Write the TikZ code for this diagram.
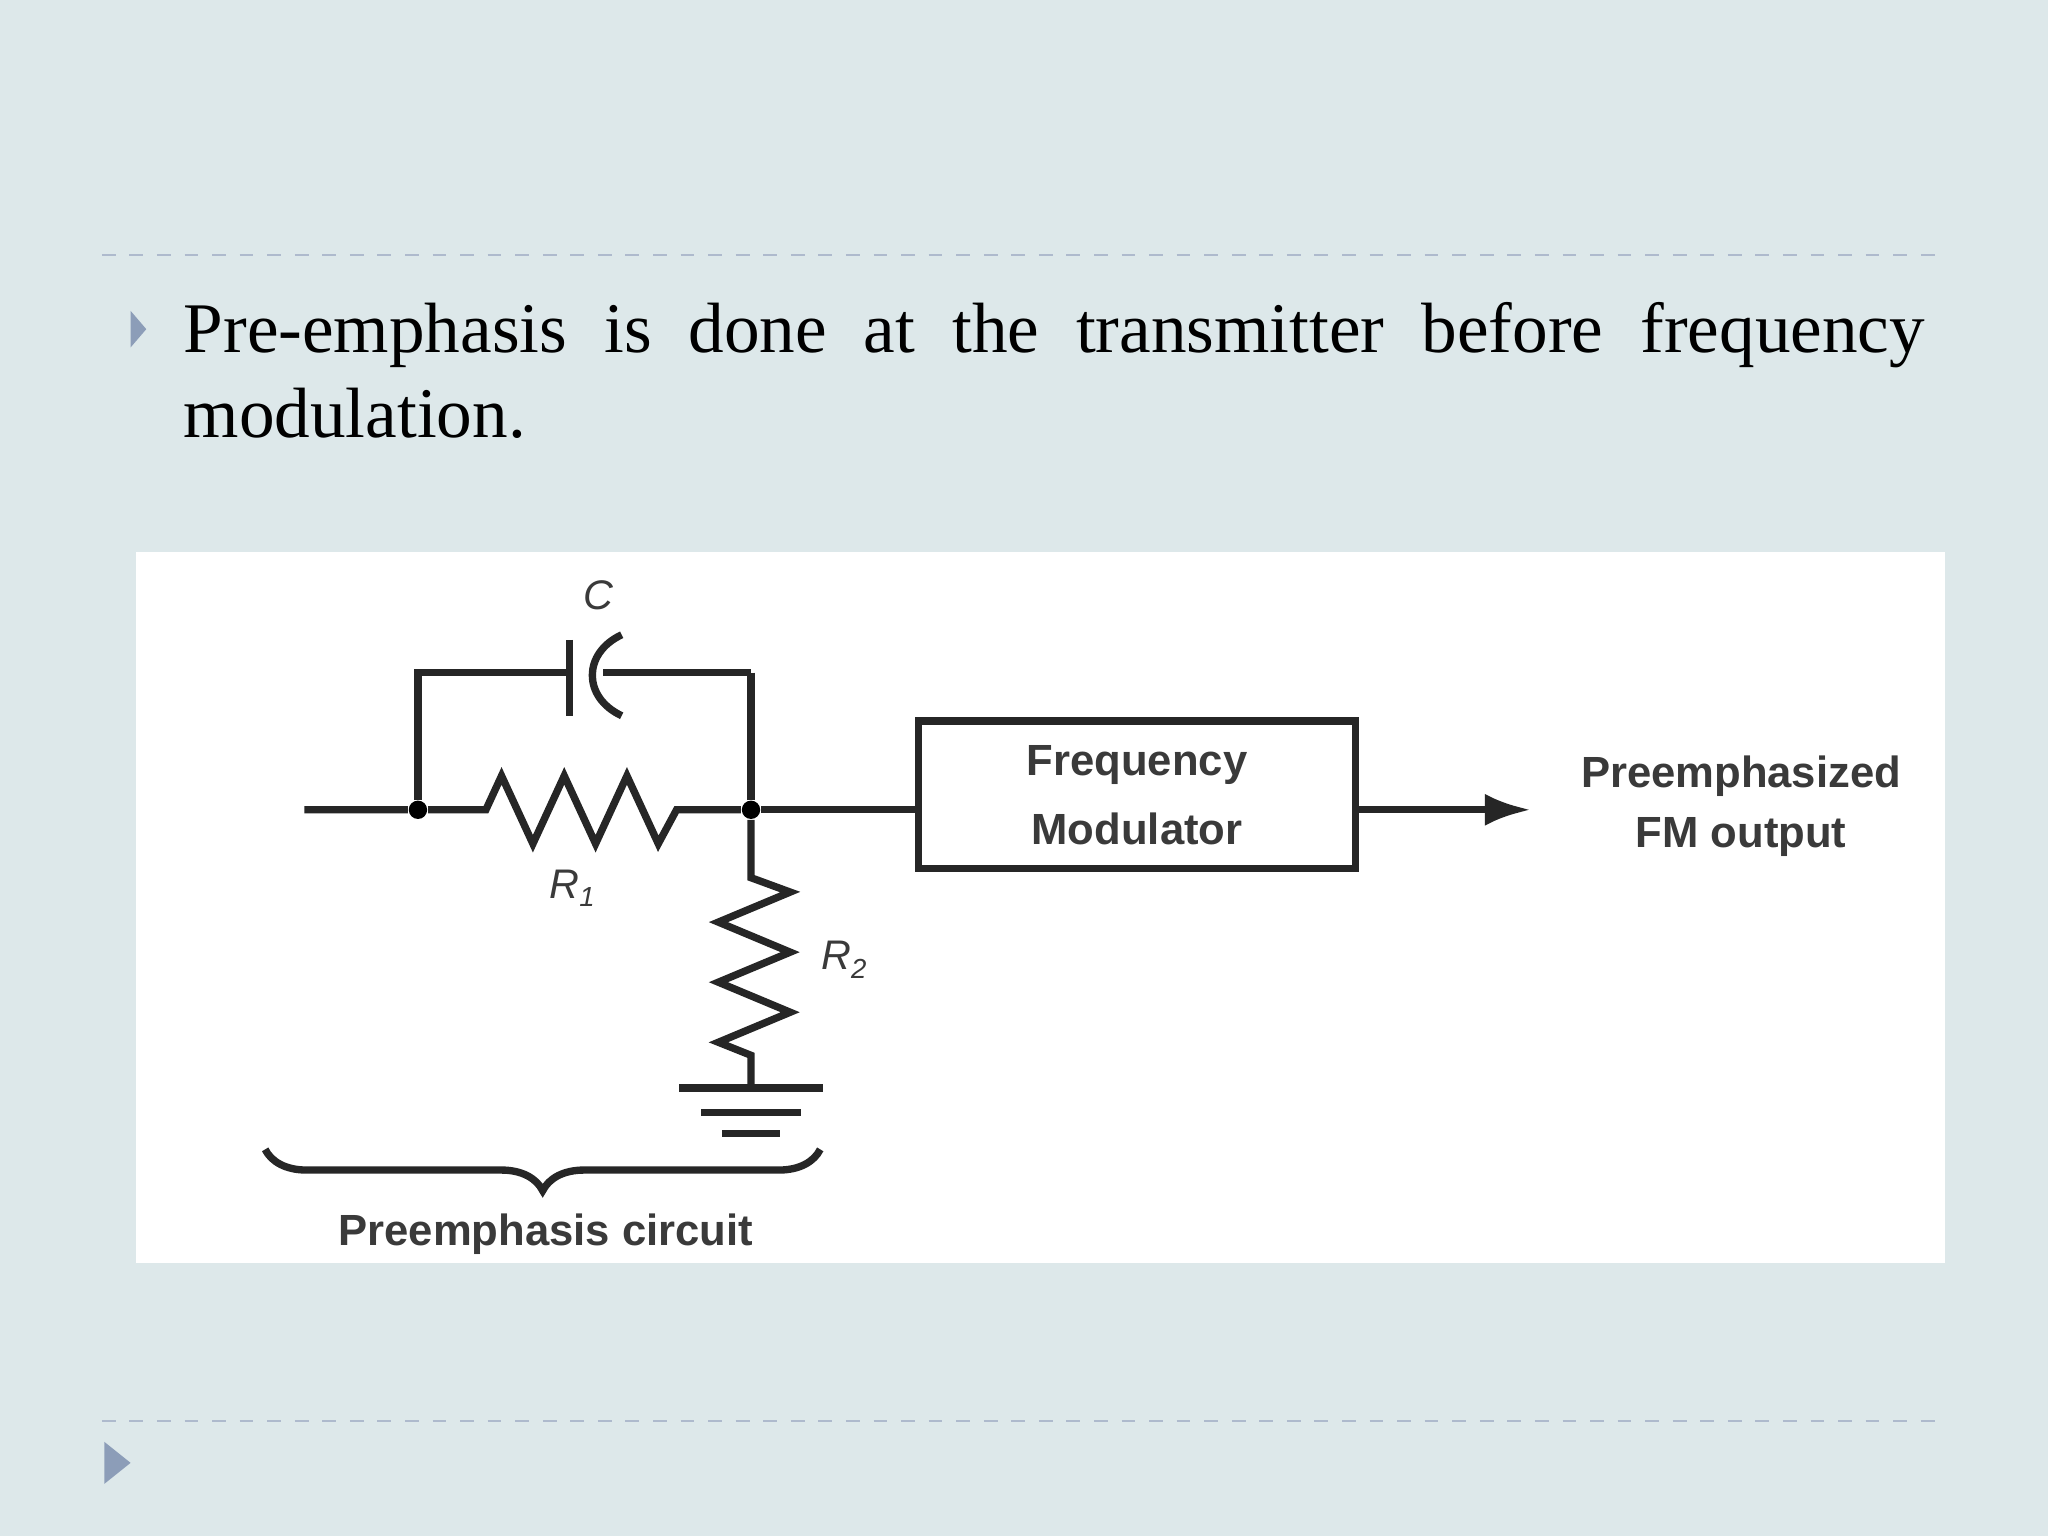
\documentclass[tikz,border=0pt]{standalone}
\usepackage{fontspec}
\setmainfont{Liberation Serif}
\newfontfamily\dsans{Liberation Sans}
\usetikzlibrary{decorations.pathreplacing,arrows.meta}
\definecolor{bg}{HTML}{DDE8EA}
\definecolor{tri}{HTML}{8C9DB8}
\definecolor{lbl}{HTML}{3A3A3A}
\begin{document}
\begin{tikzpicture}[x=0.01cm,y=-0.01cm,
  wire/.style={line width=1.6pt,black!85},
  lab/.style={font=\dsans\bfseries\fontsize{9.5}{13}\selectfont,text=lbl,align=center},
  sym/.style={font=\dsans\itshape\fontsize{9}{10}\selectfont,text=lbl},
  dot/.style={circle,fill=black,inner sep=0pt,minimum size=4pt}]
\fill[bg] (0,0) rectangle (1568,1176);
\useasboundingbox (0,0) rectangle (1568,1176);
\draw[dashed,tri!70,line width=0.5pt] (78,195) -- (1490,195);
\draw[dashed,tri!70,line width=0.5pt] (78,1088) -- (1490,1088);
\fill[tri] (100,238) -- (112,252) -- (100,266) -- cycle;
\fill[tri] (80,1104) -- (100,1120) -- (80,1136) -- cycle;
\node[anchor=base west,text width=1333*0.01cm,align=left,inner sep=0pt,font=\fontsize{15.5}{18.4}\selectfont] (txt) at (140,270)
 {\hbox to 1333\dimexpr0.01cm\relax{Pre-emphasis\hfill is\hfill done\hfill at\hfill the\hfill transmitter\hfill before\hfill frequency}\\modulation.};
\fill[white] (104,423) rectangle (1489,967);
\coordinate (in) at (233,620);
\node[dot] (a) at (320,620) {};
\node[dot] (b) at (575,620) {};
\coordinate (r1s) at (372,620); \coordinate (r1e) at (518,620);
\coordinate (ta) at (320,515); \coordinate (tb) at (575,515);
\coordinate (c1) at (436,515);
\coordinate (r2s) at (575,672); \coordinate (r2e) at (575,808);
\coordinate (gnd) at (575,833);
\node[draw,wire,minimum width=335*0.01cm,minimum height=113*0.01cm,lab] (fm) at (870.5,608.5) {Frequency\\[2pt]Modulator};
\node[lab,anchor=center] (out) at (1333,617) {Preemphasized\\FM output};
\draw[wire] (in) -- (a) -- (r1s) -- ++(12,-26) -- ++(24,52) -- ++(24,-52) -- ++(24,52) -- ++(24,-52) -- ++(24,52) -- (r1e) -- (b);
\draw[wire] (a) -- (ta) -- (c1);
\draw[wire] (c1 |- 0,490) -- (c1 |- 0,548);
\draw[wire] (tb) -- (462,515);
\draw[wire] (476,486) .. controls (446,500) and (446,534) .. (476,548);
\draw[wire] (tb) -- (b);
\draw[wire] (b) -- (b -| fm.west);
\draw[wire,-{Latex[length=10pt,width=7pt]}] (fm.east |- b) -- (1172,620);
\draw[wire] (b) -- (r2s) -- ++(30,11) -- ++(-55,23) -- ++(55,23) -- ++(-55,23) -- ++(55,23) -- ++(-55,23) -- (r2e) -- (gnd);
\draw[wire] (520,833) -- (630,833);
\draw[wire] (537,852) -- (613,852);
\draw[wire] (553,868) -- (597,868);
\node[sym] (lc) at (458,456) {C};
\node[sym] (lr1) at (438,680) {R\raisebox{-0.4ex}{\fontsize{6}{6}\selectfont 1}};
\node[sym] (lr2) at (646,735) {R\raisebox{-0.4ex}{\fontsize{6}{6}\selectfont 2}};
\draw[wire,decorate,decoration={brace,mirror,amplitude=9pt}] (203,880) -- (628,880);
\node[lab] (pc) at (418,945) {Preemphasis circuit};
\end{tikzpicture}
\end{document}
